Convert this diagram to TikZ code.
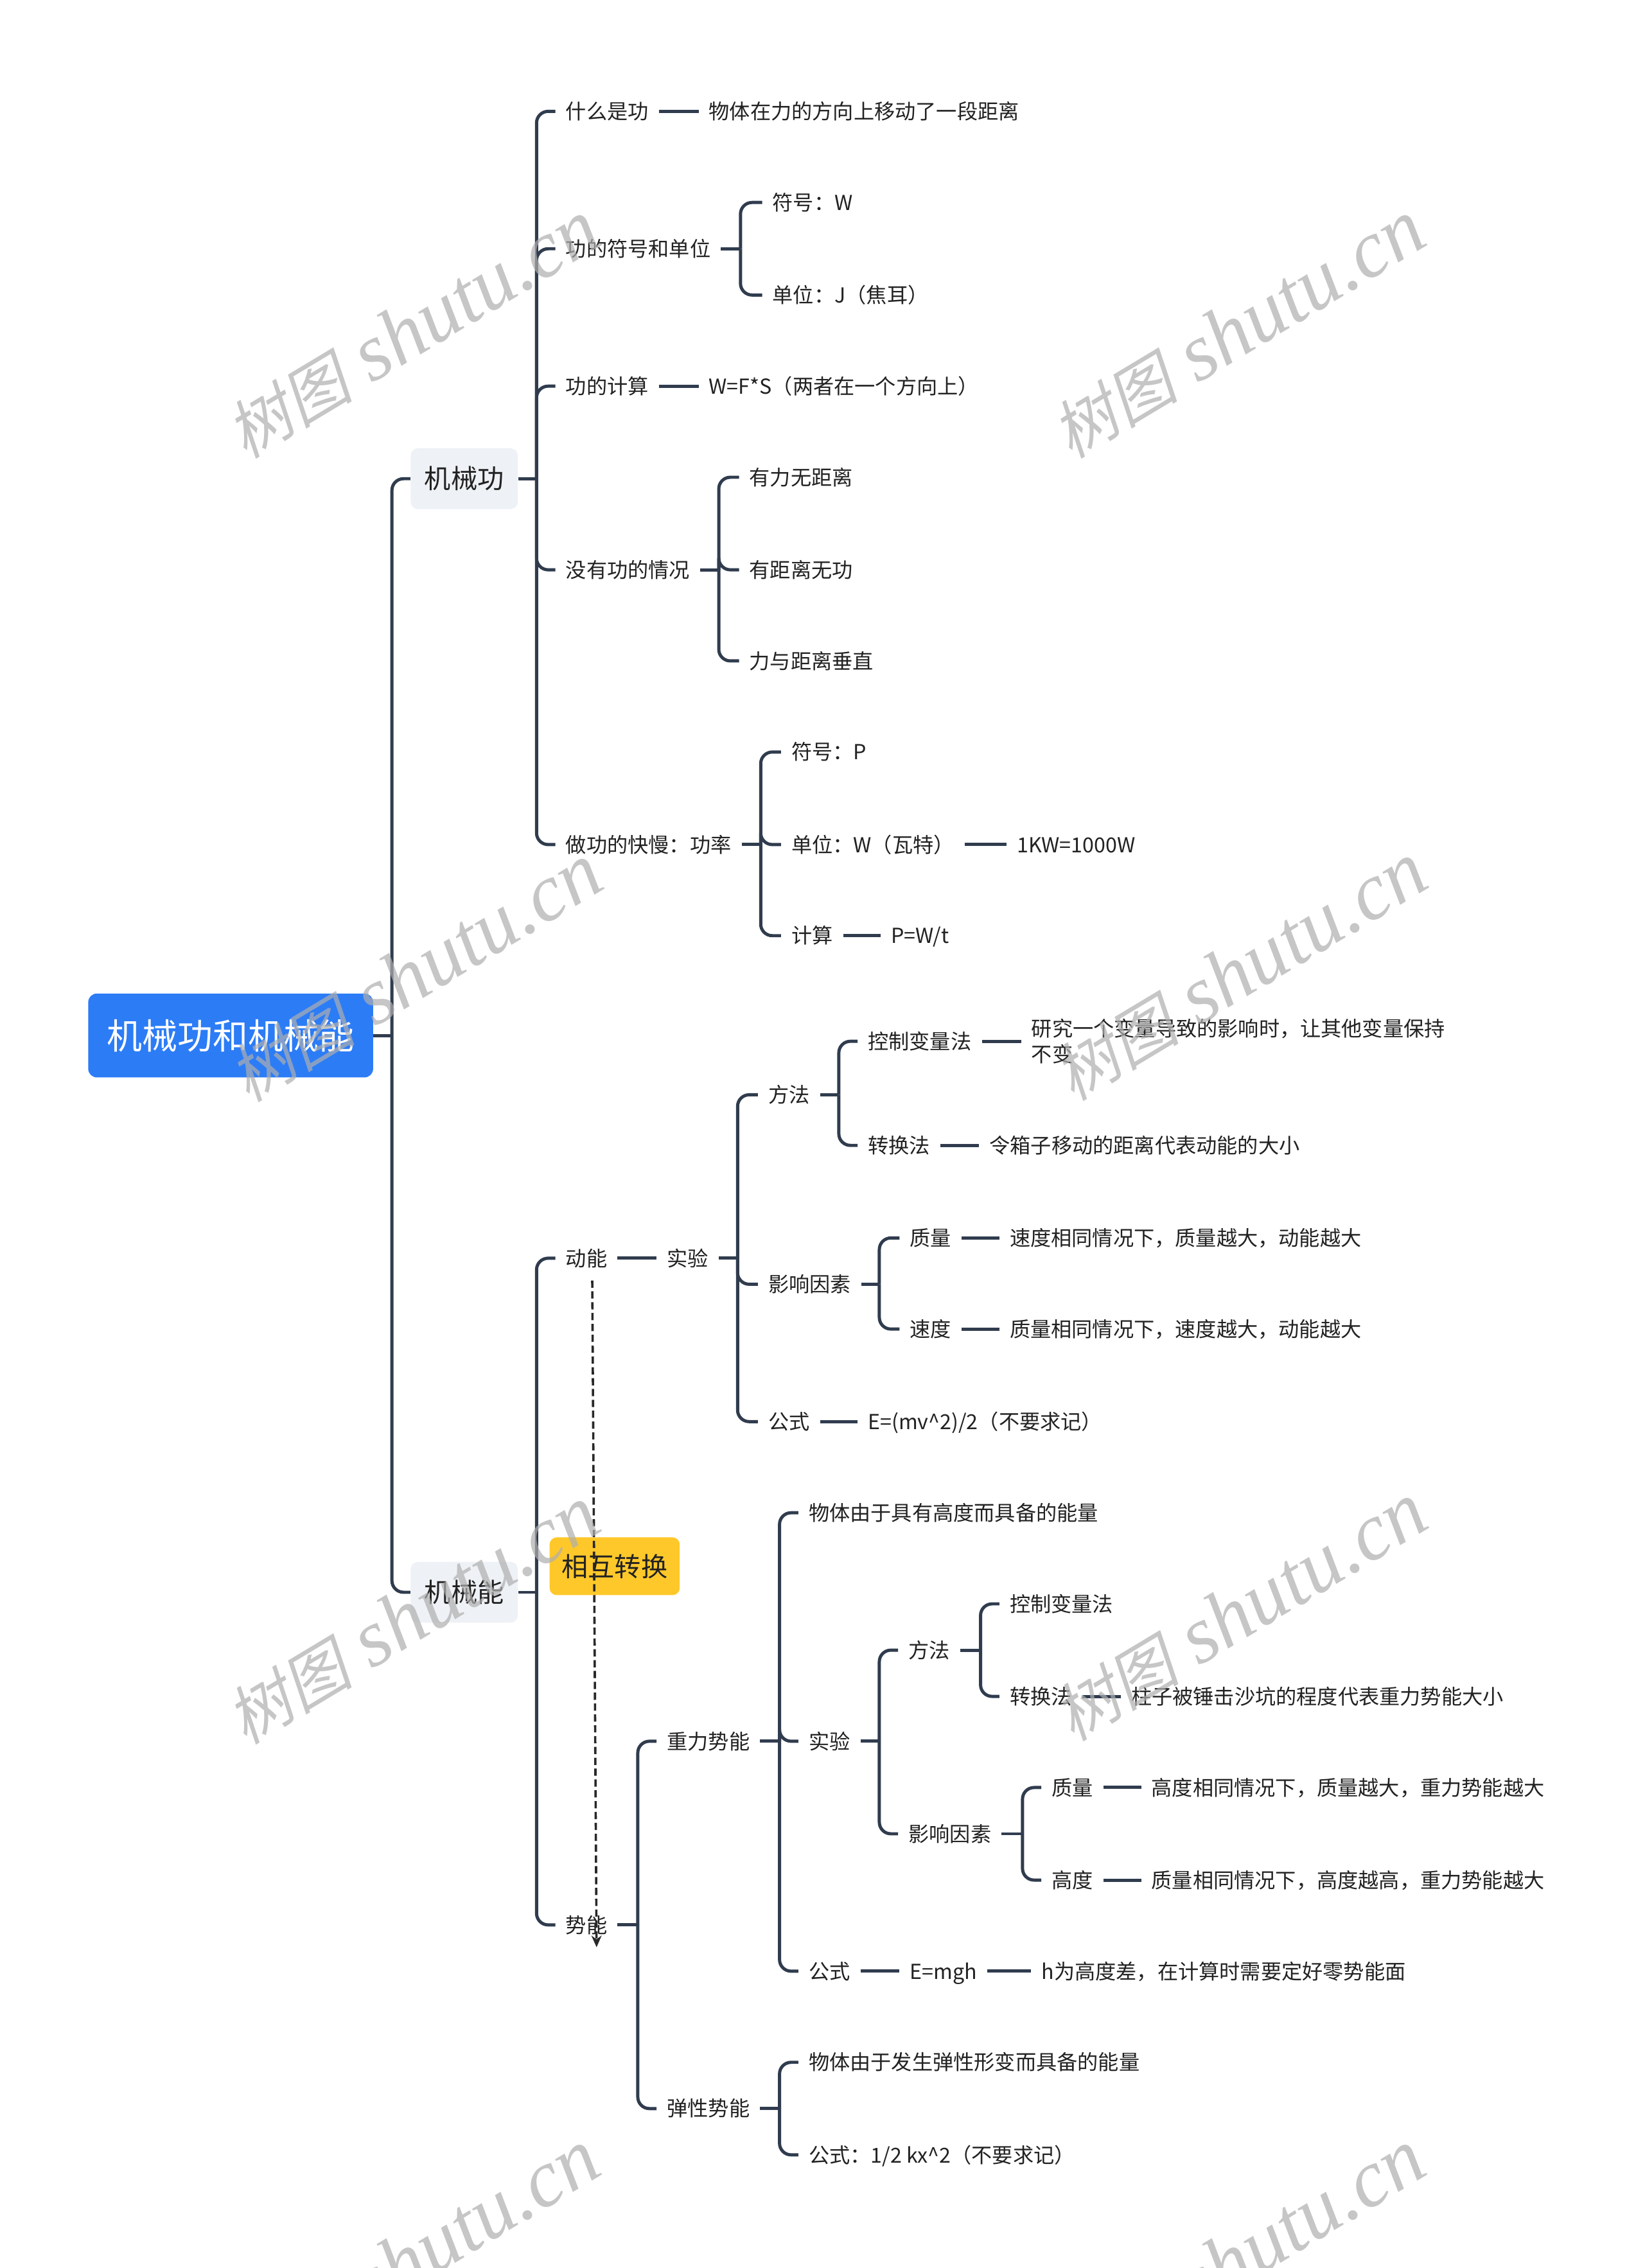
\documentclass[tikz,border=0pt]{standalone}
\usepackage{fontspec}
\setmainfont{Noto Sans CJK SC}
\newfontfamily\wmcjk[FakeSlant=0.22]{Noto Sans CJK SC}
\newfontfamily\wmlat{Liberation Serif}
\usetikzlibrary{arrows.meta,calc}
\definecolor{lc}{RGB}{48,60,78}
\definecolor{tc}{RGB}{34,34,34}
\definecolor{rootc}{RGB}{44,124,246}
\definecolor{subbg}{RGB}{238,241,245}
\definecolor{yel}{RGB}{255,200,42}
\definecolor{wmc}{RGB}{175,175,175}
\tikzset{
  conn/.style={draw=lc, line width=2.2pt},
  txt/.style={font=\fontsize{14.3}{18}\selectfont, text=tc, inner xsep=7pt, inner ysep=2pt, text height=12.6pt, text depth=1.8pt, anchor=west},
  txttwo/.style={font=\fontsize{14.3}{18}\selectfont, text=tc, inner xsep=7pt, inner ysep=2pt, anchor=west, align=left},
  subbox/.style={fill=subbg, rounded corners=5pt, font=\fontsize{18.3}{22}\selectfont, text=tc, minimum width=74pt, minimum height=42pt, inner sep=0pt},
  rootbox/.style={fill=rootc, rounded corners=6pt, text=white, font=\fontsize{24.4}{28}\selectfont, minimum width=197pt, minimum height=58pt, inner sep=0pt},
  hubox/.style={fill=yel, rounded corners=5pt, text=tc, font=\fontsize{18.3}{22}\selectfont, minimum width=90pt, minimum height=40pt, inner sep=0pt},
  dasharrow/.style={draw={rgb,255:red,40;green,40;blue,40}, line width=1.6pt, dash pattern=on 5pt off 2.5pt, -{Stealth[length=8pt,width=7pt]}},
  wm/.style={text=wmc, opacity=0.7, rotate=31, inner sep=0pt}
}
\newcommand\mmbrk[3]{%
  \coordinate (mmx) at (#2,0);
  \draw[conn] (#1.east) -- (#1.east -| mmx);
  \foreach \mmch in {#3}{\draw[conn,rounded corners=8pt] (#1.east -| mmx) |- (\mmch.west);}%
}
\newcommand\mmln[2]{\draw[conn] (#1.east) -- (#2.west);}
\newcommand\wmtext{{\wmcjk\fontsize{44}{50}\selectfont 树图}\hspace{14pt}{\wmlat\itshape\fontsize{56}{60}\selectfont shutu.cn}}
\begin{document}
\begin{tikzpicture}[x=1pt,y=-1pt]
\useasboundingbox (0,0) rectangle (1137,1568.25);
\clip (0,0) rectangle (1137,1568.25);
\fill[white] (0,0) rectangle (1137,1568.25);

% root and main branches
\node[rootbox] (root) at (159.5,716) {机械功和机械能};
\node[subbox] (jxg) at (321,331) {机械功};
\node[subbox] (jxn) at (321,1101) {机械能};
\mmbrk{root}{271}{jxg,jxn}

% ---------- 机械功 ----------
\node[txt] (a1) at (384,77) {什么是功};
\node[txt] (a1c) at (483,77) {物体在力的方向上移动了一段距离};
\node[txt] (a2) at (384,172) {功的符号和单位};
\node[txt] (a2a) at (527,140) {符号：W};
\node[txt] (a2b) at (527,204) {单位：J（焦耳）};
\node[txt] (a3) at (384,267) {功的计算};
\node[txt] (a3c) at (483,267) {W=F*S（两者在一个方向上）};
\node[txt] (a4) at (384,394) {没有功的情况};
\node[txt] (a4a) at (511,330) {有力无距离};
\node[txt] (a4b) at (511,394) {有距离无功};
\node[txt] (a4c) at (511,457) {力与距离垂直};
\node[txt] (a5) at (384,584) {做功的快慢：功率};
\node[txt] (a5a) at (540,520) {符号：P};
\node[txt] (a5b) at (540,584) {单位：W（瓦特）};
\node[txt] (a5bc) at (696,584) {1KW=1000W};
\node[txt] (a5c) at (540,647) {计算};
\node[txt] (a5cc) at (609,647) {P=W/t};

\mmbrk{jxg}{371}{a1,a2,a3,a4,a5}
\mmln{a1}{a1c}
\mmbrk{a2}{512}{a2a,a2b}
\mmln{a3}{a3c}
\mmbrk{a4}{497}{a4a,a4b,a4c}
\mmbrk{a5}{526}{a5a,a5b,a5c}
\mmln{a5b}{a5bc}
\mmln{a5c}{a5cc}

% ---------- 机械能 ----------
\node[txt] (b1) at (384,870) {动能};
\node[txt] (b1e) at (454,870) {实验};
\node[txt] (b1e1) at (524,757) {方法};
\node[txt] (b1e1a) at (593,720) {控制变量法};
\node[txttwo] (b1e1ac) at (706,720) {研究一个变量导致的影响时，让其他变量保持\\不变};
\node[txt] (b1e1b) at (593,792) {转换法};
\node[txt] (b1e1bc) at (677,792) {令箱子移动的距离代表动能的大小};
\node[txt] (b1e2) at (524,888) {影响因素};
\node[txt] (b1e2a) at (622,856) {质量};
\node[txt] (b1e2ac) at (691,856) {速度相同情况下，质量越大，动能越大};
\node[txt] (b1e2b) at (622,919) {速度};
\node[txt] (b1e2bc) at (691,919) {质量相同情况下，速度越大，动能越大};
\node[txt] (b1e3) at (524,983) {公式};
\node[txt] (b1e3c) at (593,983) {E=(mv\textasciicircum 2)/2（不要求记）};

\node[txt] (b2) at (384,1331) {势能};
\node[txt] (b21) at (454,1204) {重力势能};
\node[txt] (b21a) at (552,1046) {物体由于具有高度而具备的能量};
\node[txt] (b21b) at (552,1204) {实验};
\node[txt] (b21b1) at (621,1141) {方法};
\node[txt] (b21b1a) at (691,1109) {控制变量法};
\node[txt] (b21b1b) at (691,1173) {转换法};
\node[txt] (b21b1bc) at (775,1173) {柱子被锤击沙坑的程度代表重力势能大小};
\node[txt] (b21b2) at (621,1268) {影响因素};
\node[txt] (b21b2a) at (720,1236) {质量};
\node[txt] (b21b2ac) at (789,1236) {高度相同情况下，质量越大，重力势能越大};
\node[txt] (b21b2b) at (720,1300) {高度};
\node[txt] (b21b2bc) at (789,1300) {质量相同情况下，高度越高，重力势能越大};
\node[txt] (b21c) at (552,1363) {公式};
\node[txt] (b21cc) at (622,1363) {E=mgh};
\node[txt] (b21ccc) at (713,1363) {h为高度差，在计算时需要定好零势能面};
\node[txt] (b22) at (454,1458) {弹性势能};
\node[txt] (b22a) at (552,1426) {物体由于发生弹性形变而具备的能量};
\node[txt] (b22b) at (552,1490) {公式：1/2 kx\textasciicircum 2（不要求记）};

\mmbrk{jxn}{371}{b1,b2}
\mmln{b1}{b1e}
\mmbrk{b1e}{510}{b1e1,b1e2,b1e3}
\mmbrk{b1e1}{580}{b1e1a,b1e1b}
\mmln{b1e1a}{b1e1ac}
\mmln{b1e1b}{b1e1bc}
\mmbrk{b1e2}{608}{b1e2a,b1e2b}
\mmln{b1e2a}{b1e2ac}
\mmln{b1e2b}{b1e2bc}
\mmln{b1e3}{b1e3c}

\mmbrk{b2}{441}{b21,b22}
\mmbrk{b21}{539}{b21a,b21b,b21c}
\mmbrk{b21b}{608}{b21b1,b21b2}
\mmbrk{b21b1}{678}{b21b1a,b21b1b}
\mmln{b21b1b}{b21b1bc}
\mmbrk{b21b2}{707}{b21b2a,b21b2b}
\mmln{b21b2a}{b21b2ac}
\mmln{b21b2b}{b21b2bc}
\mmln{b21c}{b21cc}
\mmln{b21cc}{b21ccc}
\mmbrk{b22}{539}{b22a,b22b}

% mutual conversion
\node[hubox] (hz) at (425,1083) {相互转换};
\draw[dasharrow] ([xshift=4pt,yshift=-6pt]b1.south) -- ([xshift=7pt,yshift=-6pt]b2.south);

% watermarks
\node[wm] (w1) at (285,228) {\wmtext};
\node[wm] (w2) at (856,228) {\wmtext};
\node[wm] (w3) at (287,673) {\wmtext};
\node[wm] (w4) at (857,672) {\wmtext};
\node[wm] (w5) at (285,1117) {\wmtext};
\node[wm] (w6) at (857,1115) {\wmtext};
\node[wm] (w7) at (285,1562) {\wmtext};
\node[wm] (w8) at (856,1562) {\wmtext};
\end{tikzpicture}
\end{document}
